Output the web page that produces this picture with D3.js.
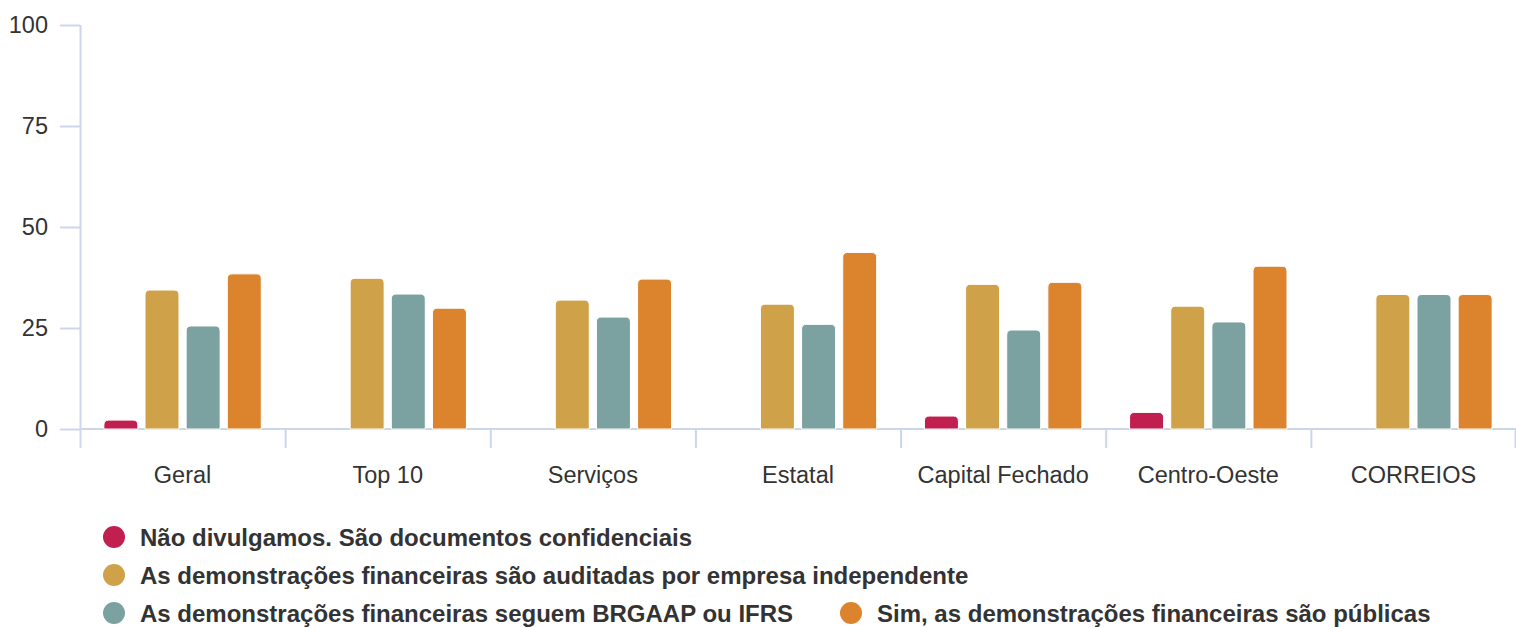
<!DOCTYPE html>
<html><head><meta charset="utf-8">
<script src="https://cdn.jsdelivr.net/npm/d3@7"></script>
<style>body{margin:0;background:#fff}svg{display:block;font-family:"Liberation Sans",Arial,sans-serif}</style>
</head><body><svg id="c" width="1516" height="628"></svg>
<script>
const categories = ["Geral","Top 10","Serviços","Estatal","Capital Fechado","Centro-Oeste","CORREIOS"];
const seriesNames = ["Não divulgamos. São documentos confidenciais","As demonstrações financeiras são auditadas por empresa independente","As demonstrações financeiras seguem BRGAAP ou IFRS","Sim, as demonstrações financeiras são públicas"];
const seriesColors = ["#C21F51","#CFA24A","#7BA1A1","#DB842D"];
const naoDivulgamos = [2.2, 0, 0, 0, 3.2, 4.1, 0];
const auditadas = [34.4, 37.3, 31.9, 30.9, 35.8, 30.4, 33.3];
const brgaap = [25.5, 33.4, 27.7, 25.9, 24.5, 26.5, 33.3];
const publicas = [38.4, 29.9, 37.1, 43.7, 36.3, 40.3, 33.3];
const yTicks = [0, 25, 50, 75, 100];
const seriesValues = [naoDivulgamos, auditadas, brgaap, publicas];

(function () {
const svg = d3.select("#c");
const pL = 80, pR = 1516, pT = 25, pB = 429;
const x = d3.scaleBand().domain(categories).range([pL, pR]);
const xi = d3.scaleBand().domain(d3.range(4)).range([0, x.bandwidth()]).paddingInner(0.174).paddingOuter(0.58);
const y = d3.scaleLinear().domain([0, 100]).range([pB, pT]);
const axisColor = "#ccd6eb";
const ff = "Liberation Sans, Arial, sans-serif";

// y axis
const ya = svg.append("g").attr("transform", `translate(${pL},0)`)
  .call(d3.axisLeft(y).tickValues(yTicks).tickSize(20).tickPadding(12));
ya.select(".domain").attr("stroke", axisColor).attr("stroke-width", 2).attr("d", `M0.5,${pT}V${pB}`);
ya.selectAll(".tick line").attr("stroke", axisColor).attr("stroke-width", 2);
ya.selectAll(".tick text").attr("fill", "#333").attr("font-size", 23.5).attr("font-family", ff);

// x axis
const xa = svg.append("g").attr("transform", `translate(0,${pB})`)
  .call(d3.axisBottom(x).tickSize(0).tickPadding(37));
xa.select(".domain").attr("stroke", axisColor).attr("stroke-width", 2).attr("d", `M${pL},0H${pR}`);
xa.selectAll(".tick text").attr("fill", "#333").attr("font-size", 23.5).attr("font-family", ff);
const bounds = categories.map(c => x(c)).concat([pR - 1]);
svg.append("g").selectAll("line").data(bounds).join("line")
  .attr("x1", d => d + 0.5).attr("x2", d => d + 0.5).attr("y1", pB).attr("y2", pB + 19)
  .attr("stroke", axisColor).attr("stroke-width", 2);

// bars
function topRounded(x0, y0, w, h, r) {
  r = Math.min(r, h, w / 2);
  return `M${x0},${y0 + h}V${y0 + r}Q${x0},${y0} ${x0 + r},${y0}H${x0 + w - r}Q${x0 + w},${y0} ${x0 + w},${y0 + r}V${y0 + h}Z`;
}
seriesValues.forEach((vals, si) => {
  svg.append("g").selectAll("path").data(vals.map((v, i) => ({v, c: categories[i]})).filter(d => d.v > 0)).join("path")
    .attr("d", d => topRounded(x(d.c) + xi(si), y(d.v), xi.bandwidth(), pB - y(d.v), 5))
    .attr("fill", seriesColors[si]).attr("stroke", "#fff").attr("stroke-width", 1);
});

// legend
const legendPos = [[114, 538], [114, 576], [114, 614], [851, 614]];
const lg = svg.append("g");
seriesNames.forEach((n, i) => {
  const [lx, ly] = legendPos[i];
  lg.append("circle").attr("cx", lx).attr("cy", ly - 1).attr("r", 11).attr("fill", seriesColors[i]);
  lg.append("text").attr("x", lx + 26).attr("y", ly + 8).text(n)
    .attr("font-size", 24).attr("font-weight", "bold").attr("fill", "#333").attr("font-family", ff);
});
})();
</script></body></html>
